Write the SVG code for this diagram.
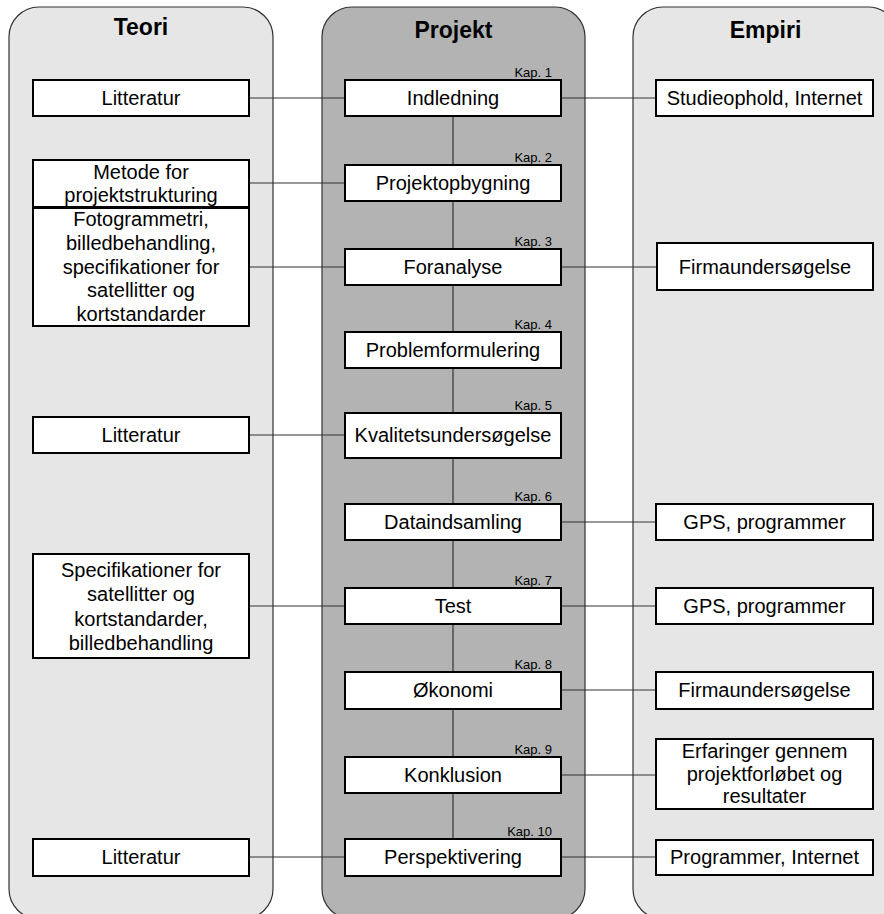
<svg xmlns="http://www.w3.org/2000/svg" width="884" height="914" viewBox="0 0 884 914">
<style>
.panel{stroke:#333;stroke-width:1.2}
.light{fill:#e6e6e6}
.dark{fill:#b3b3b3}
.box{fill:#fff;stroke:#000;stroke-width:2}
.t{font-family:"Liberation Sans",Arial,sans-serif;font-size:20px;fill:#000;text-anchor:middle}
.h{font-family:"Liberation Sans",Arial,sans-serif;font-size:23px;font-weight:bold;fill:#000;text-anchor:middle}
.k{font-family:"Liberation Sans",Arial,sans-serif;font-size:13px;fill:#000;text-anchor:end}
.c{stroke:#333;stroke-width:1.2;fill:none}
</style>
<rect width="884" height="914" fill="#fff"/>
<g id="panel-teori">
<rect class="panel light" x="9" y="7" width="264" height="912" rx="30"/>
<text class="h" x="141" y="35">Teori</text>
</g>
<g id="panel-projekt">
<rect class="panel dark" x="322" y="7" width="263" height="912" rx="30"/>
<text class="h" x="453.5" y="38">Projekt</text>
</g>
<g id="panel-empiri">
<rect class="panel light" x="633" y="7" width="265" height="912" rx="30"/>
<text class="h" x="765.5" y="38">Empiri</text>
</g>
<g id="connectors">
<line class="c" x1="453" y1="116" x2="453" y2="839"/>
<line class="c" x1="249" y1="98" x2="345" y2="98"/>
<line class="c" x1="561" y1="98" x2="656" y2="98"/>
<line class="c" x1="249" y1="183" x2="345" y2="183"/>
<line class="c" x1="249" y1="267" x2="345" y2="267"/>
<line class="c" x1="561" y1="267" x2="657" y2="267"/>
<line class="c" x1="249" y1="435" x2="345" y2="435"/>
<line class="c" x1="561" y1="522" x2="656" y2="522"/>
<line class="c" x1="249" y1="606" x2="345" y2="606"/>
<line class="c" x1="561" y1="606" x2="656" y2="606"/>
<line class="c" x1="561" y1="690" x2="656" y2="690"/>
<line class="c" x1="561" y1="775" x2="656" y2="775"/>
<line class="c" x1="249" y1="857" x2="345" y2="857"/>
<line class="c" x1="561" y1="857" x2="656" y2="857"/>
</g>
<g id="t-litteratur-1"><rect class="box" x="33" y="80" width="216" height="36"/><text class="t" x="141" y="105">Litteratur</text></g>
<g id="t-metode"><rect class="box" x="33" y="160" width="216" height="47"/><text class="t" x="141" y="179">Metode for</text><text class="t" x="141" y="202">projektstrukturing</text></g>
<g id="t-fotogrammetri"><rect class="box" x="33" y="208" width="216" height="118"/><text class="t" x="141" y="226">Fotogrammetri,</text><text class="t" x="141" y="250">billedbehandling,</text><text class="t" x="141" y="274">specifikationer for</text><text class="t" x="141" y="297">satellitter og</text><text class="t" x="141" y="321">kortstandarder</text></g>
<g id="t-litteratur-2"><rect class="box" x="33" y="417" width="216" height="36"/><text class="t" x="141" y="442">Litteratur</text></g>
<g id="t-specifikationer"><rect class="box" x="33" y="554" width="216" height="104"/><text class="t" x="141" y="577">Specifikationer for</text><text class="t" x="141" y="601">satellitter og</text><text class="t" x="141" y="626">kortstandarder,</text><text class="t" x="141" y="650">billedbehandling</text></g>
<g id="t-litteratur-3"><rect class="box" x="33" y="839" width="216" height="37"/><text class="t" x="141" y="864">Litteratur</text></g>
<g id="p-1"><text class="k" x="552" y="77">Kap. 1</text><rect class="box" x="345" y="80" width="216" height="36"/><text class="t" x="453" y="105">Indledning</text></g>
<g id="p-2"><text class="k" x="552" y="162">Kap. 2</text><rect class="box" x="345" y="165" width="216" height="36"/><text class="t" x="453" y="190">Projektopbygning</text></g>
<g id="p-3"><text class="k" x="552" y="246">Kap. 3</text><rect class="box" x="345" y="249" width="216" height="36"/><text class="t" x="453" y="274">Foranalyse</text></g>
<g id="p-4"><text class="k" x="552" y="329">Kap. 4</text><rect class="box" x="345" y="332" width="216" height="36"/><text class="t" x="453" y="357">Problemformulering</text></g>
<g id="p-5"><text class="k" x="552" y="410">Kap. 5</text><rect class="box" x="345" y="413" width="216" height="45"/><text class="t" x="453" y="442">Kvalitetsundersøgelse</text></g>
<g id="p-6"><text class="k" x="552" y="501">Kap. 6</text><rect class="box" x="345" y="504" width="216" height="36"/><text class="t" x="453" y="529">Dataindsamling</text></g>
<g id="p-7"><text class="k" x="552" y="585">Kap. 7</text><rect class="box" x="345" y="588" width="216" height="36"/><text class="t" x="453" y="613">Test</text></g>
<g id="p-8"><text class="k" x="552" y="669">Kap. 8</text><rect class="box" x="345" y="672" width="216" height="37"/><text class="t" x="453" y="697">Økonomi</text></g>
<g id="p-9"><text class="k" x="552" y="754">Kap. 9</text><rect class="box" x="345" y="757" width="216" height="36"/><text class="t" x="453" y="782">Konklusion</text></g>
<g id="p-10"><text class="k" x="552" y="836">Kap. 10</text><rect class="box" x="345" y="839" width="216" height="37"/><text class="t" x="453" y="864">Perspektivering</text></g>
<g id="e-studieophold"><rect class="box" x="656" y="80" width="217" height="36"/><text class="t" x="764.5" y="105">Studieophold, Internet</text></g>
<g id="e-firma-1"><rect class="box" x="657" y="243" width="216" height="47"/><text class="t" x="765" y="274">Firmaundersøgelse</text></g>
<g id="e-gps-1"><rect class="box" x="656" y="504" width="217" height="36"/><text class="t" x="764.5" y="529">GPS, programmer</text></g>
<g id="e-gps-2"><rect class="box" x="656" y="588" width="217" height="36"/><text class="t" x="764.5" y="613">GPS, programmer</text></g>
<g id="e-firma-2"><rect class="box" x="656" y="672" width="217" height="37"/><text class="t" x="764.5" y="697">Firmaundersøgelse</text></g>
<g id="e-erfaringer"><rect class="box" x="656" y="739" width="217" height="70"/><text class="t" x="764.5" y="758">Erfaringer gennem</text><text class="t" x="764.5" y="781">projektforløbet og</text><text class="t" x="764.5" y="803">resultater</text></g>
<g id="e-programmer"><rect class="box" x="656" y="840" width="217" height="35"/><text class="t" x="764.5" y="864">Programmer, Internet</text></g>
</svg>
